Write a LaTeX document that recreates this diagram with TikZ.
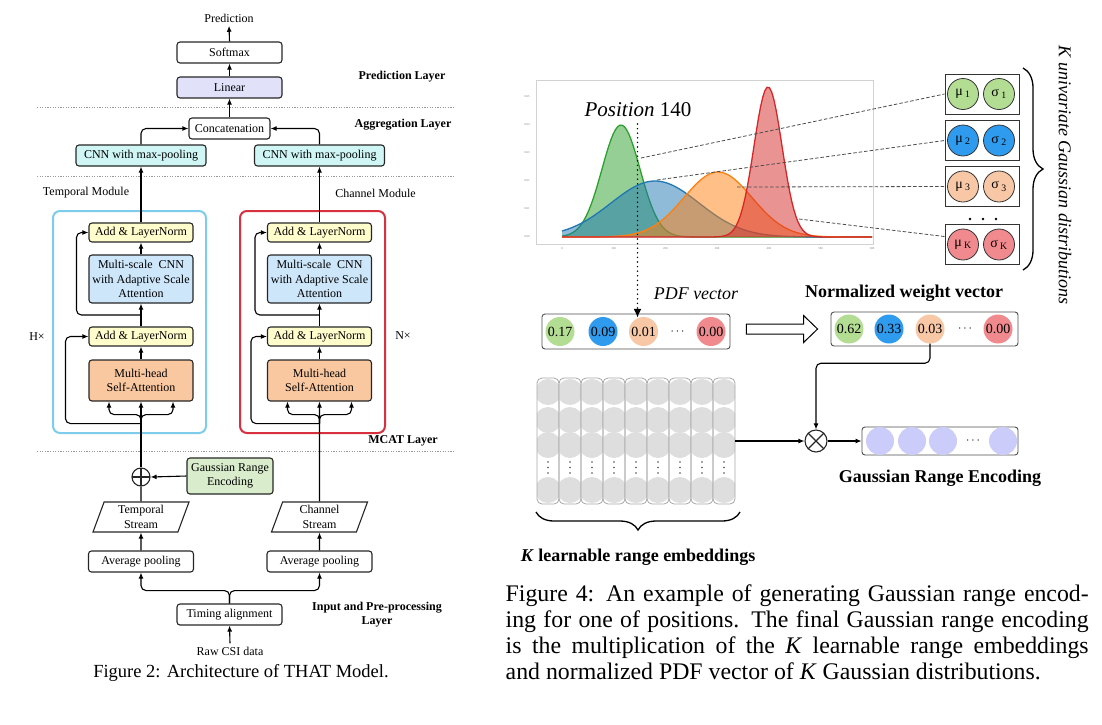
\documentclass[tikz,border=0pt]{standalone}
\usepackage{fontspec}
\setmainfont{Liberation Serif}
\usetikzlibrary{arrows.meta,calc,shapes.geometric,decorations.pathreplacing}

\definecolor{linfill}{HTML}{E1E1FA}
\definecolor{cnnfill}{HTML}{CFF5F5}
\definecolor{addfill}{HTML}{FFFDCC}
\definecolor{mscfill}{HTML}{CDE6FA}
\definecolor{mhsafill}{HTML}{FAC8A0}
\definecolor{grefill}{HTML}{D9EDCC}
\definecolor{tcol}{HTML}{7DCCEB}
\definecolor{ccol}{HTML}{D7303E}
\definecolor{cgreen}{HTML}{B4DD94}
\definecolor{cblue}{HTML}{2F9BEF}
\definecolor{cpeach}{HTML}{F8C8A6}
\definecolor{cpink}{HTML}{F08A8E}
\definecolor{clav}{HTML}{CCCCFA}
\definecolor{cemb}{HTML}{DEDEDE}
\definecolor{mplgreen}{HTML}{2CA02C}
\definecolor{mplblue}{HTML}{1F77B4}
\definecolor{mplorange}{HTML}{FF7F0E}
\definecolor{mplred}{HTML}{D62728}

\tikzset{
  blk/.style={draw=black!85,line width=1.1pt,rounded corners=3pt,align=center,inner sep=1pt},
  flow/.style={-{Latex[length=6pt,width=5pt]},line width=1.1pt,rounded corners=5pt},
  sepline/.style={gray!80,line width=0.8pt,dash pattern=on 1.2pt off 1.4pt},
  layer/.style={font=\fontsize{12}{14}\selectfont\bfseries,align=center},
  para/.style={draw=black!85,line width=1.1pt,trapezium,trapezium left angle=66,trapezium right angle=114,
    trapezium stretches body=true,minimum width=96,minimum height=30,inner sep=1pt,align=center},
  vcirc/.style={circle,minimum size=29,inner sep=0pt,font=\fontsize{14}{15}\selectfont},
  mscirc/.style={circle,draw=black!80,line width=0.8pt,minimum size=31,inner sep=0pt,font=\fontsize{14}{15}\selectfont},
  vecbox/.style={draw=black!70,line width=0.9pt,rounded corners=3pt},
  guide/.style={black!70,line width=0.8pt,dash pattern=on 3.5pt off 2pt},
  tick/.style={font=\fontsize{3}{3}\selectfont,text=gray},
  headline/.style={font=\fontsize{18}{20}\selectfont\bfseries}
}

\begin{document}
\begin{tikzpicture}[x=1pt,y=-1pt,font=\fontsize{12}{14}\selectfont]
		\useasboundingbox (0,0) rectangle (1102,724);
		%%% Figure 2 : architecture
		\node (pred) at (229,18) {Prediction};
		\node[blk,minimum width=105,minimum height=21] (soft) at (229.5,52.5) {Softmax};
		\node[blk,fill=linfill,minimum width=105,minimum height=21] (lin) at (229.5,87.5) {Linear};
		\node[layer] (lpred) at (402,77) {Prediction Layer};
		\draw[sepline] (37,107) -- (455,107);
		\node[blk,minimum width=81,minimum height=21] (concat) at (229.5,128.5) {Concatenation};
		\node[layer] (lagg) at (403,125) {Aggregation Layer};
		\node[blk,fill=cnnfill,minimum width=130,minimum height=21] (cnnT) at (141,155.5) {CNN with max-pooling};
		\node[blk,fill=cnnfill,minimum width=130,minimum height=21] (cnnC) at (319.5,155.5) {CNN with max-pooling};
		\draw[sepline] (37,176) -- (455,176);
		\node (tmod) at (86,193) {Temporal Module};
		\node (cmod) at (375.5,193) {Channel Module};
		\node[draw=tcol,line width=2pt,rounded corners=7pt,minimum width=153,minimum height=222] (tbox) at (129.5,322) {};
		\node[draw=ccol,line width=2pt,rounded corners=7pt,minimum width=145,minimum height=222] (cbox) at (312.5,322) {};
		\node (hx) at (37,337) {H×};
		\node (nx) at (403,336) {N×};
		% the two encoder stacks
		\foreach \cx/\n/\ro in {141/T/23,319.5/C/16}{
			\node[blk,fill=addfill,minimum width=104,minimum height=19] (addtop\n) at (\cx,232.5) {Add \& LayerNorm};
			\node[blk,fill=mscfill,minimum width=104,minimum height=48,font=\fontsize{12}{14.5}\selectfont] (msc\n) at (\cx,279) {Multi-scale~~CNN\\with Adaptive Scale\\Attention};
			\node[blk,fill=addfill,minimum width=104,minimum height=19] (addbot\n) at (\cx,336.5) {Add \& LayerNorm};
			\node[blk,fill=mhsafill,minimum width=104,minimum height=41,font=\fontsize{12}{14.5}\selectfont] (mhsa\n) at (\cx,380.5) {Multi-head\\Self-Attention};
			\coordinate (fork\n) at ($(mhsa\n.south)+(0,22)$);
			\coordinate (mid\n) at ($(addbot\n.north)!0.5!(msc\n.south)$);
			\draw[flow] (mhsa\n.north) -- (addbot\n.south);
			\draw[flow] (addbot\n.north) -- (msc\n.south);
			\draw[flow] (msc\n.north) -- (addtop\n.south);
			\draw[flow] (addtop\n.north) -- (cnn\n.south);
			\draw[flow] (fork\n) |- ($(mhsa\n.south)+(-32,13)$) -- ($(mhsa\n.south)+(-32,0)$);
			\draw[flow] (fork\n) |- ($(mhsa\n.south)+(32,13)$) -- ($(mhsa\n.south)+(32,0)$);
			\draw[flow] (fork\n) -| ($(addbot\n.west)+(-\ro,0)$) -- (addbot\n.west);
			\draw[flow] (mid\n) -| ($(addtop\n.west)+(-12,0)$) -- (addtop\n.west);
		}
		\draw[flow] (cnnT.north) |- (concat.west);
		\draw[flow] (cnnC.north) |- (concat.east);
		\draw[flow] (concat.north) -- (lin.south);
		\draw[flow] (lin.north) -- (soft.south);
		\draw[flow] (soft.north) -- (pred.south);
		\node[layer] (lmcat) at (403,441) {MCAT Layer};
		\draw[sepline] (37,451) -- (455,451);
		% input side
		\node[draw=black!85,circle,line width=1.1pt,minimum size=18,inner sep=0pt,
			path picture={\draw[line width=1.1pt] (path picture bounding box.west) -- (path picture bounding box.east)
				(path picture bounding box.north) -- (path picture bounding box.south);}] (plusT) at (141,477) {};
		\node[blk,fill=grefill,minimum width=86,minimum height=36,font=\fontsize{12}{14.5}\selectfont] (gre) at (230,476) {Gaussian Range\\Encoding};
		\node[para,font=\fontsize{12}{14.5}\selectfont] (tstream) at (141,517) {Temporal\\Stream};
		\node[para,font=\fontsize{12}{14.5}\selectfont] (cstream) at (319.5,517) {Channel\\Stream};
		\node[blk,minimum width=105,minimum height=21] (avgT) at (141,561.5) {Average pooling};
		\node[blk,minimum width=105,minimum height=21] (avgC) at (319.5,561.5) {Average pooling};
		\node[blk,minimum width=105,minimum height=21] (timing) at (229.5,614.5) {Timing alignment};
		\node (raw) at (230,651) {Raw CSI data};
		\node[layer] (linput) at (377,615) {Input and Pre-processing\\Layer};
		\draw[flow] (gre.west) -- (plusT.east);
		\draw[line width=1.1pt] (tstream.north) -- (plusT.south);
		\draw[flow] (plusT.north) -- (mhsaT.south);
		\draw[flow] (cstream.north) -- (mhsaC.south);
		\draw[flow] (avgT.north) -- (tstream.south);
		\draw[flow] (avgC.north) -- (cstream.south);
		\draw[flow] (timing.north) |- ($(avgT.south)+(0,18)$) -- (avgT.south);
		\draw[flow] (timing.north) |- ($(avgC.south)+(0,18)$) -- (avgC.south);
		\draw[flow] (raw.north) -- (timing.south);
		\node (cap2) at (241,673) {\fontsize{18.5}{22}\selectfont Figure 2: Architecture of THAT Model.};
		%%% Figure 4 : Gaussian range encoding
		\draw[gray!35,line width=0.8pt] (536,80) rectangle (873,244);
		\foreach \v [count=\i from 0] in {0,100,200,300,400,500,600}
			\node[tick] (xt\i) at (562+51.7*\i,249) {\v};
		\foreach \v [count=\i from 0] in {0.00,0.01,0.02,0.03,0.04,0.05}
			\node[tick] (yt\i) at (527,237-28*\i) {\v};
		\foreach \m/\s/\h/\col in {621/19/112/mplgreen,655/44/56/mplblue,718/34/65/mplorange,768/14/150/mplred}{
			\fill[\col,fill opacity=0.5] plot[domain=562:872,samples=140] (\x,{237-\h*exp(-min(0.5*((\x-\m)/\s)^2,9))}) -- (872,237) -- (562,237) -- cycle;
			\draw[\col,line width=1.3pt] plot[domain=562:872,samples=140] (\x,{237-\h*exp(-min(0.5*((\x-\m)/\s)^2,9))});
		}
		\node (pos) at (638,110) {\fontsize{21}{24}\selectfont\textit{Position} 140};
		% the K gaussians
		\foreach \yy/\k/\col [count=\i] in {94/1/cgreen,140.5/2/cblue,186.5/3/cpeach,244.5/K/cpink}{
			\node[draw=black!80,line width=1pt,minimum width=74,minimum height=40] (ms\i) at (982,\yy) {};
			\node[mscirc,fill=\col] (mu\i) at (963,\yy) {μ\,\textsubscript{\k}};
			\node[mscirc,fill=\col] (sg\i) at (999,\yy) {σ\,\textsubscript{\k}};
		}
		\foreach \dx in {970,983,996}
			\fill (\dx,219) circle (1.3);
		\coordinate (c1) at (641,158);
		\coordinate (c2) at (657,180);
		\coordinate (c3) at (737,187);
		\coordinate (c4) at (799,219);
		\draw[guide] (c1) -- (ms1.west);
		\draw[guide] (c2) -- (ms2.west);
		\draw[guide] (c3) -- (ms3.west);
		\draw[guide] (c4) -- ($(ms4.west)+(0,-8)$);
		\draw[decorate,decoration={brace,amplitude=20pt},line width=1.3pt] (1023,68) -- (1023,270);
		\node[rotate=-90] (kuni) at (1065,175) {\fontsize{18}{20}\selectfont\textit{K univariate Gaussian distributions}};
		% pdf vector and normalised weights
		\node[vecbox,minimum width=188,minimum height=35] (pdfbox) at (636,331.5) {};
		\foreach \xx/\v/\col [count=\i] in {560/0.17/cgreen,603/0.09/cblue,643.5/0.01/cpeach,711/0.00/cpink}
			\node[vcirc,fill=\col] (p\i) at (\xx,331.5) {\v};
		\node (pdots) at (677.5,331.5) {$\cdots$};
		\node (pdft) at (696,294) {\fontsize{17.9}{20}\selectfont\textit{PDF vector}};
		\coordinate (ptop) at (637.5,124);
		\draw[line width=1.6pt,dash pattern=on 0pt off 4.6pt,line cap=round,-{Latex[length=9pt,width=8pt]}] (ptop) -- ($(ptop |- p3.north)+(0,1)$);
		\node[vecbox,minimum width=187,minimum height=34] (normbox) at (924.5,329) {};
		\foreach \xx/\v/\col [count=\i] in {849/0.62/cgreen,889/0.33/cblue,930/0.03/cpeach,998/0.00/cpink}
			\node[vcirc,fill=\col] (w\i) at (\xx,329) {\v};
		\node (wdots) at (965,329) {$\cdots$};
		\node[headline] (normt) at (904,293) {Normalized weight vector};
		% hollow arrow between the two vectors
		\coordinate (hfrom) at ($(pdfbox.east)+(16,-2.5)$);
		\coordinate (hto) at ($(normbox.west)+(-13,0)$);
		\draw[line width=1pt,line join=miter] ($(hfrom)+(0,-5)$) -- ($(hto)+(-14,-5)$) -- ($(hto)+(-14,-13.5)$) -- (hto)
			-- ($(hto)+(-14,13.5)$) -- ($(hto)+(-14,5)$) -- ($(hfrom)+(0,5)$) -- cycle;
		% learnable range embeddings
		\foreach \i in {1,...,9}{
			\begin{scope}
				\clip[rounded corners=5pt] (515+22*\i,378) rectangle ++(22,126);
				\foreach \r in {392,420,445,490}
					\fill[cemb] (526+22*\i,\r) circle (13);
			\end{scope}
			\node[draw=gray!70,line width=0.8pt,rounded corners=5pt,minimum width=22,minimum height=126,inner sep=0pt] (emb\i) at (526+22*\i,441) {};
			\foreach \r in {462,467.5,473}
				\fill[black!70] (526+22*\i,\r) circle (0.8);
		}
		\draw[decorate,decoration={brace,mirror,amplitude=18pt},line width=1.3pt] (536,512) -- (740,512);
		\node[headline] (kemb) at (638,557) {\textit{K} learnable range embeddings};
		\node[draw=black!85,circle,line width=1.1pt,minimum size=22,inner sep=0pt,
			path picture={\draw[line width=1.1pt] (path picture bounding box.north west) -- (path picture bounding box.south east)
				(path picture bounding box.north east) -- (path picture bounding box.south west);}] (mult) at (816,441) {};
		\node[vecbox,minimum width=156,minimum height=28] (grebox) at (940,441) {};
		\foreach \xx [count=\i] in {880,912,943,1003}
			\node[circle,fill=clav,minimum size=28,inner sep=0pt] (g\i) at (\xx,441) {};
		\node (gdots) at (973,441) {$\cdots$};
		\node[headline] (gret) at (940,478) {Gaussian Range Encoding};
		\draw[flow] (w3.south) -- ++(0,19.5) -| (mult.north);
		\draw[flow] (emb9.east) -- (mult.west);
		\draw[flow] (mult.east) -- (grebox.west);
		\node[anchor=north west,text width=583pt,align=justify,inner sep=0pt,font=\fontsize{23.8}{26}\selectfont] (cap4) at (505.5,585)
			{Figure 4: An example of generating Gaussian range encod-\linebreak ing for one of positions. The final Gaussian range encoding\linebreak is the multiplication of the \textit{K} learnable range embeddings\linebreak and normalized PDF vector of \textit{K} Gaussian distributions.};
	\end{tikzpicture}
\end{document}
